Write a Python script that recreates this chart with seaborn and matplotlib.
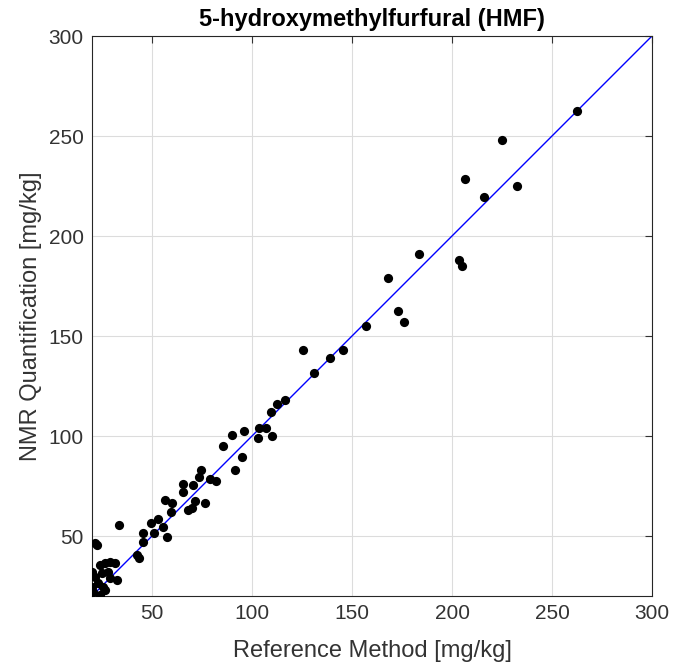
import matplotlib
matplotlib.use("Agg")
import matplotlib.pyplot as plt
import seaborn as sns
import pandas as pd

# Data
ref_method = [262.3, 224.8, 206.5, 232.7, 216.2, 203.7, 204.8, 183.5, 168.0, 173.0,
              176.0, 157.0, 145.5, 139.0, 131.0, 125.5, 116.5, 112.5, 109.3, 103.7,
              106.8, 102.8, 110.0, 96.2, 90.2, 85.5, 95.2, 91.3, 74.5, 73.7,
              79.0, 82.0, 70.7, 65.5, 65.7, 56.3, 60.0, 76.7, 71.7, 70.0,
              68.0, 59.3, 53.2, 49.5, 55.7, 51.0, 45.3, 57.3, 45.7, 42.3,
              43.7, 33.5, 21.5, 22.3, 20.0, 24.0, 26.5, 29.0, 31.5, 21.5,
              24.8, 28.2, 32.3, 29.0, 23.2, 25.7, 20.7, 24.0, 26.5, 20.0]
nmr_quant = [262.7, 248.0, 228.5, 225.0, 219.7, 188.0, 185.2, 191.0, 179.0, 162.5,
             157.0, 155.0, 143.0, 139.0, 131.5, 143.0, 118.0, 115.8, 111.8, 103.8,
             104.0, 99.2, 100.2, 102.3, 100.7, 95.0, 89.3, 83.0, 83.0, 79.7,
             78.3, 77.7, 75.5, 76.2, 72.2, 68.0, 66.7, 66.7, 67.5, 64.2,
             62.8, 61.8, 58.5, 56.7, 54.7, 51.7, 51.3, 49.3, 47.2, 40.5,
             38.8, 55.5, 46.3, 45.3, 32.2, 35.5, 36.3, 37.2, 36.3, 29.7,
             31.3, 32.2, 28.0, 28.8, 26.3, 24.7, 22.2, 20.5, 23.0, 24.7]
ticks = [50, 100, 150, 200, 250, 300]
axis_range = [20, 300]

df = pd.DataFrame({"ref": ref_method, "nmr": nmr_quant})

sns.set_theme(style="white")
plt.rcParams["font.family"] = ["Liberation Sans", "DejaVu Sans"]

fig = plt.figure(figsize=(6.73, 6.64), dpi=100)
ax = fig.add_axes([92 / 673, 68 / 664, 560 / 673, 560 / 664])

ax.grid(True, color="#dcdcdc", linewidth=0.8, zorder=0)
ax.set_axisbelow(True)

ax.axline((axis_range[0], axis_range[0]), slope=1, color="blue", linewidth=1.0, zorder=2)

sns.scatterplot(data=df, x="ref", y="nmr", color="black", s=44, linewidth=0,
                ax=ax, zorder=3, legend=False)

ax.set_xlim(axis_range)
ax.set_ylim(axis_range)
ax.set_xticks(ticks)
ax.set_yticks(ticks)
ax.set_xticklabels([str(t) for t in ticks])
ax.set_yticklabels([str(t) for t in ticks])

ax.tick_params(direction="in", top=True, right=True, length=5, width=0.8,
               labelsize=15, colors="#333333", pad=6)
for sp in ax.spines.values():
    sp.set_visible(True)
    sp.set_color("#262626")
    sp.set_linewidth(0.8)

ax.set_xlabel("Reference Method [mg/kg]", fontsize=17, color="#333333", labelpad=12)
ax.set_ylabel("NMR Quantification [mg/kg]", fontsize=17, color="#333333", labelpad=5)
ax.set_title("5-hydroxymethylfurfural (HMF)", fontsize=17, fontweight="bold",
             color="black", pad=7)

fig.savefig("out.png", dpi=100)
